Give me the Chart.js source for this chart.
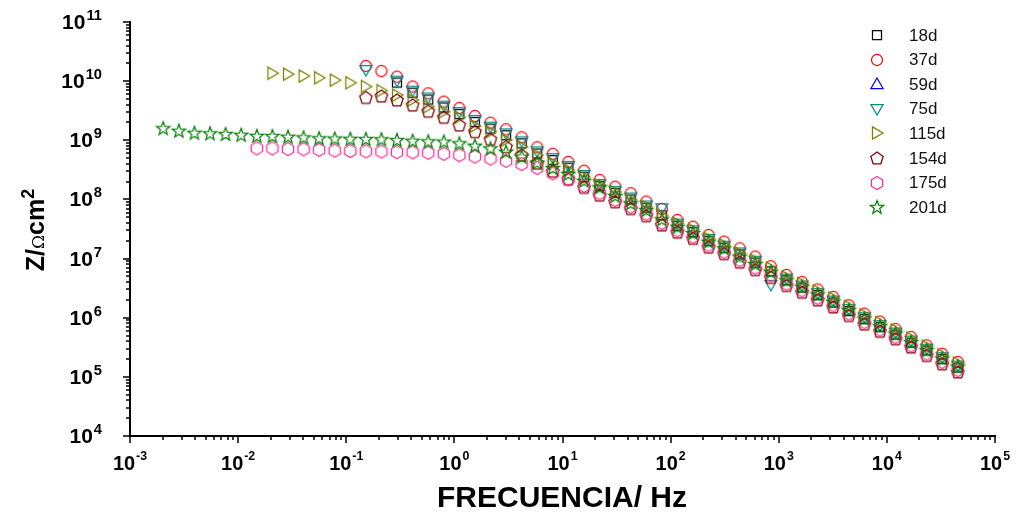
<!DOCTYPE html>
<html>
<head>
<meta charset="utf-8">
<script src="https://cdn.jsdelivr.net/npm/chart.js@4.4.1/dist/chart.umd.min.js"></script>
<style>
  html, body { margin: 0; padding: 0; background: #fff; }
</style>
</head>
<body>
<canvas id="impedancia" width="1023" height="514"></canvas>
<script>
// Frecuencias de medida (Hz), comunes a todas las series
const frecuencias = [
  0.00203, 0.00283, 0.00394, 0.0055, 0.00766, 0.01067, 0.01489, 0.02075, 0.0289, 0.0403,
  0.0561, 0.0782, 0.1089, 0.1517, 0.2113, 0.2944, 0.411, 0.573, 0.798, 1.112,
  1.549, 2.158, 3.006, 4.188, 5.834, 8.128, 11.32, 15.81, 22.03, 30.69,
  42.76, 59.57, 82.99, 115.6, 161.1, 224.4, 312.6, 435.5, 606.7, 845.3,
  1178, 1644, 2291, 3192, 4446, 6194, 8630, 12020, 16750, 23330,
  32510, 45290
];

// Módulo de impedancia |Z| (ohm·cm2) para cada tiempo de exposición
const z18d = [
  null, null, null, null, null, null, null, null, null, null,
  null, null, null, null, null, 9.5e9, 6.4e9, 4.9e9, 3.6e9, 2.8e9,
  2.05e9, 1.58e9, 1.22e9, 8.9e8, 6.0e8, 4.65e8, 3.45e8, 2.42e8, 1.7e8, 1.3e8,
  1.0e8, 7.3e7, 5.4e7, 3.6e7, 2.8e7, 2.0e7, 1.53e7, 1.18e7, 8.6e6, 6.1e6,
  4.3e6, 3.25e6, 2.42e6, 1.81e6, 1.3e6, 9.5e5, 7.0e5, 5.2e5, 3.8e5, 2.8e5,
  2.0e5, 1.44e5
];
const z37d = [
  null, null, null, null, null, null, null, null, null, null,
  null, null, null, 1.8e10, 1.48e10, 1.19e10, 8.1e9, 6.2e9, 4.5e9, 3.5e9,
  2.58e9, 1.98e9, 1.53e9, 1.12e9, 7.6e8, 5.9e8, 4.3e8, 3.06e8, 2.13e8, 1.64e8,
  1.27e8, 9.2e7, 6.9e7, 4.5e7, 3.46e7, 2.5e7, 1.93e7, 1.49e7, 1.08e7, 7.4e6,
  5.3e6, 4.0e6, 3.0e6, 2.25e6, 1.62e6, 1.17e6, 8.6e5, 6.4e5, 4.7e5, 3.4e5,
  2.45e5, 1.78e5
];
const z59d = [];
const z75d = [
  null, null, null, null, null, null, null, null, null, null,
  null, null, null, 1.54e10, null, 1.02e10, 6.9e9, 5.3e9, 3.85e9, 3.0e9,
  2.2e9, 1.7e9, 1.31e9, 9.6e8, 6.5e8, 5.0e8, 3.7e8, 2.6e8, 1.82e8, 1.4e8,
  1.08e8, 7.9e7, 7.1e7, 3.9e7, 3.0e7, 2.15e7, 1.65e7, 1.27e7, 9.2e6, 3.6e6,
  4.6e6, 3.5e6, 2.6e6, 1.95e6, 1.4e6, 1.02e6, 7.5e5, 5.6e5, 4.1e5, 3.0e5,
  2.15e5, 1.55e5
];
const z115d = [
  null, null, null, null, null, null, null, 1.36e10, 1.31e10, 1.22e10,
  1.14e10, 1.04e10, 9.4e9, 8.1e9, 6.9e9, 5.8e9, 4.8e9, 3.7e9, 3.04e9, 2.45e9,
  1.74e9, 1.4e9, 1.01e9, 7.8e8, 5.6e8, 4.1e8, 3.14e8, 2.42e8, 1.75e8, 1.35e8,
  9.9e7, 7.6e7, 5.3e7, 4.0e7, 3.1e7, 2.2e7, 1.71e7, 1.24e7, 9.3e6, 6.9e6,
  4.9e6, 3.8e6, 2.85e6, 2.15e6, 1.55e6, 1.12e6, 8.3e5, 6.2e5, 4.5e5, 3.3e5,
  2.36e5, 1.71e5
];
const z154d = [
  null, null, null, null, null, null, null, null, null, null,
  null, null, null, 5.3e9, 5.6e9, 4.8e9, 3.95e9, 3.1e9, 2.45e9, 1.81e9,
  1.4e9, 1.04e9, 7.8e8, 5.6e8, 4.1e8, 3.0e8, 2.2e8, 1.6e8, 1.18e8, 9.1e7,
  7.0e7, 5.3e7, 3.7e7, 2.8e7, 2.2e7, 1.56e7, 1.21e7, 8.7e6, 6.5e6, 4.8e6,
  3.5e6, 2.7e6, 2.0e6, 1.52e6, 1.09e6, 7.8e5, 5.9e5, 4.4e5, 3.2e5, 2.3e5,
  1.66e5, 1.21e5
];
const z175d = [
  null, null, null, null, null, null, 7.3e8, 7.3e8, 7.1e8, 7.05e8,
  6.9e8, 6.7e8, 6.6e8, 6.5e8, 6.45e8, 6.3e8, 6.25e8, 6.15e8, 5.9e8, 5.6e8,
  5.3e8, 4.9e8, 4.5e8, 3.97e8, 3.4e8, 2.76e8, 2.19e8, 1.69e8, 1.27e8, 9.8e7,
  7.5e7, 5.7e7, 4.0e7, 3.0e7, 2.35e7, 1.68e7, 1.3e7, 9.4e6, 7.0e6, 5.2e6,
  3.75e6, 2.9e6, 2.16e6, 1.63e6, 1.17e6, 8.4e5, 6.3e5, 4.7e5, 3.4e5, 2.47e5,
  1.78e5, 1.3e5
];
const z201d = [
  1.6e9, 1.45e9, 1.34e9, 1.31e9, 1.28e9, 1.24e9, 1.19e9, 1.18e9, 1.15e9, 1.12e9,
  1.08e9, 1.07e9, 1.06e9, 1.05e9, 1.04e9, 1.01e9, 9.8e8, 9.6e8, 9.5e8, 8.9e8,
  8.1e8, 7.3e8, 6.4e8, 5.3e8, 4.2e8, 3.4e8, 2.7e8, 2.07e8, 1.6e8, 1.15e8,
  8.6e7, 6.6e7, 4.6e7, 3.46e7, 2.7e7, 1.93e7, 1.49e7, 1.08e7, 8.1e6, 6.0e6,
  4.3e6, 3.34e6, 2.48e6, 1.87e6, 1.35e6, 9.7e5, 7.2e5, 5.4e5, 3.9e5, 2.84e5,
  2.05e5, 1.49e5
];

const etiquetas = ['18d', '37d', '59d', '75d', '115d', '154d', '175d', '201d'];
const series = [z18d, z37d, z59d, z75d, z115d, z154d, z175d, z201d];
const colores = ['#000000', '#ff0000', '#0000ff', '#008b8b', '#808000', '#800000', '#ff2f92', '#008000'];
const formas = ['cuadrado', 'circulo', 'trianguloArriba', 'trianguloAbajo', 'trianguloDerecha', 'pentagono', 'hexagono', 'estrella'];

// exponentes de las marcas principales de cada eje
const xExponentes = [-3, -2, -1, 0, 1, 2, 3, 4, 5];
const yExponentes = [4, 5, 6, 7, 8, 9, 10, 11];

// símbolos dibujados en un canvas pequeño y usados como pointStyle
function poligono(g, cx, cy, radios, n, giro) {
  for (let i = 0; i < n; i++) {
    const r = radios[i % radios.length];
    const ang = giro + i * 2 * Math.PI / n;
    const px = cx + r * Math.cos(ang), py = cy + r * Math.sin(ang);
    if (i === 0) g.moveTo(px, py); else g.lineTo(px, py);
  }
  g.closePath();
}

function marcador(forma, color) {
  const c = document.createElement('canvas');
  c.width = 18; c.height = 18;
  const g = c.getContext('2d');
  g.strokeStyle = color;
  g.lineWidth = 1.25;
  const m = 9;
  const arriba = -Math.PI / 2;
  g.beginPath();
  switch (forma) {
    case 'cuadrado': g.rect(m - 4.5, m - 4.5, 9, 9); break;
    case 'circulo': g.arc(m, m, 5.5, 0, 2 * Math.PI); break;
    case 'trianguloArriba': poligono(g, m, m + 1, [7], 3, arriba); break;
    case 'trianguloAbajo': poligono(g, m, m - 1, [7], 3, Math.PI / 2); break;
    case 'trianguloDerecha': poligono(g, m - 1, m, [7], 3, 0); break;
    case 'pentagono': poligono(g, m, m + 0.5, [6.5], 5, arriba); break;
    case 'hexagono': poligono(g, m, m, [6.5], 6, arriba); break;
    case 'estrella': poligono(g, m, m + 0.5, [7, 2.9], 10, arriba); break;
  }
  g.stroke();
  return c;
}

const simbolos = formas.map((f, i) => marcador(f, colores[i]));

function puntos(valores) {
  const lista = [];
  valores.forEach((v, i) => { if (v != null) lista.push({ x: frecuencias[i], y: v }); });
  return lista;
}

const conjuntos = etiquetas.map((et, i) => ({
  label: et,
  data: puntos(series[i]),
  pointStyle: simbolos[i],
  pointRadius: 6,
  showLine: false,
  order: etiquetas.length - i
}));

function texto10(ctx, exp, x, y, alinear, fBase, fSup, subida, escala) {
  ctx.font = fBase;
  const w1 = ctx.measureText('10').width * escala;
  ctx.font = fSup;
  const w2 = ctx.measureText(String(exp)).width * escala;
  const total = w1 + w2 + 1;
  const x0 = alinear === 'centro' ? x - total / 2 : x - total;
  ctx.save();
  ctx.textBaseline = 'alphabetic';
  ctx.textAlign = 'left';
  ctx.translate(x0, y);
  ctx.scale(escala, 1);
  ctx.font = fBase;
  ctx.fillText('10', 0, 0);
  ctx.font = fSup;
  ctx.fillText(String(exp), (w1 + 1) / escala, -subida);
  ctx.restore();
}

// marcas, etiquetas de ejes, títulos y leyenda
const ejesYLeyenda = {
  id: 'ejesYLeyenda',
  afterDraw(chart) {
    const { ctx, chartArea: a, scales: { x, y } } = chart;
    ctx.save();
    ctx.strokeStyle = '#000';
    ctx.fillStyle = '#000';
    ctx.lineWidth = 1.5;
    ctx.beginPath();
    for (let e = xExponentes[0]; e <= xExponentes[xExponentes.length - 1]; e++) {
      for (let m = 1; m < 10; m++) {
        const v = m * Math.pow(10, e);
        if (v > x.max * 1.001) break;
        const px = Math.round(x.getPixelForValue(v));
        ctx.moveTo(px, a.bottom);
        ctx.lineTo(px, a.bottom + (m === 1 ? 7 : 4));
      }
    }
    for (let e = yExponentes[0]; e <= yExponentes[yExponentes.length - 1]; e++) {
      for (let m = 1; m < 10; m++) {
        const v = m * Math.pow(10, e);
        if (v > y.max * 1.001) break;
        const py = Math.round(y.getPixelForValue(v));
        ctx.moveTo(a.left, py);
        ctx.lineTo(a.left - (m === 1 ? 7 : 4), py);
      }
    }
    ctx.stroke();

    xExponentes.forEach(e => {
      texto10(ctx, e, x.getPixelForValue(Math.pow(10, e)), a.bottom + 34,
        'centro', 'bold 21px "Liberation Sans", Arial, sans-serif',
        'bold 13px "Liberation Sans", Arial, sans-serif', 10, 0.95);
    });
    yExponentes.forEach(e => {
      texto10(ctx, e, a.left - 28, y.getPixelForValue(Math.pow(10, e)) + 7,
        'derecha', 'bold 20px "Liberation Sans", Arial, sans-serif',
        'bold 14px "Liberation Sans", Arial, sans-serif', 9, 1.05);
    });

    // título del eje x
    ctx.font = 'bold 30px "Liberation Sans", Arial, sans-serif';
    ctx.textAlign = 'center';
    ctx.textBaseline = 'alphabetic';
    ctx.fillText('FRECUENCIA/ Hz', 562, 507);

    // título del eje y: Z/Ωcm²
    const partes = [
      ['Z/', 'bold 25px "Liberation Sans", Arial, sans-serif', 0],
      ['\u03A9', '17px "DejaVu Serif", serif', 0],
      ['cm', 'bold 25px "Liberation Sans", Arial, sans-serif', 0],
      ['2', 'bold 18px "Liberation Sans", Arial, sans-serif', 10]
    ];
    let ancho = 0;
    partes.forEach(p => { ctx.font = p[1]; ancho += ctx.measureText(p[0]).width; });
    ctx.save();
    ctx.translate(44, 230);
    ctx.rotate(-Math.PI / 2);
    ctx.textAlign = 'left';
    let cx = -ancho / 2;
    partes.forEach(p => {
      ctx.font = p[1];
      ctx.fillText(p[0], cx, -p[2]);
      cx += ctx.measureText(p[0]).width;
    });
    ctx.restore();

    // leyenda
    ctx.font = '17px "Liberation Sans", Arial, sans-serif';
    ctx.textAlign = 'left';
    ctx.textBaseline = 'middle';
    ctx.fillStyle = '#111';
    etiquetas.forEach((et, i) => {
      const ly = 35 + i * 24.6;
      const s = simbolos[i];
      ctx.drawImage(s, Math.round(877 - s.width / 2), Math.round(ly - s.height / 2));
      ctx.fillText(et, 909, ly + 1);
    });
    ctx.restore();
  }
};

const ctx = document.getElementById('impedancia').getContext('2d');
const grafico = new Chart(ctx, {
  type: 'scatter',
  data: { datasets: conjuntos },
  options: {
    responsive: false,
    animation: false,
    layout: { padding: { left: 130, right: 28, top: 22, bottom: 78 } },
    plugins: { legend: { display: false }, tooltip: { enabled: false } },
    scales: {
      x: {
        type: 'logarithmic',
        min: 1e-3,
        max: 1e5,
        grid: { display: false, drawTicks: false },
        border: { display: true, color: '#000', width: 2 },
        ticks: { display: false },
        afterFit: s => { s.height = 0; }
      },
      y: {
        type: 'logarithmic',
        min: 1e4,
        max: 1e11,
        grid: { display: false, drawTicks: false },
        border: { display: true, color: '#000', width: 2 },
        ticks: { display: false },
        afterFit: s => { s.width = 0; }
      }
    }
  },
  plugins: [ejesYLeyenda]
});
</script>
</body>
</html>
